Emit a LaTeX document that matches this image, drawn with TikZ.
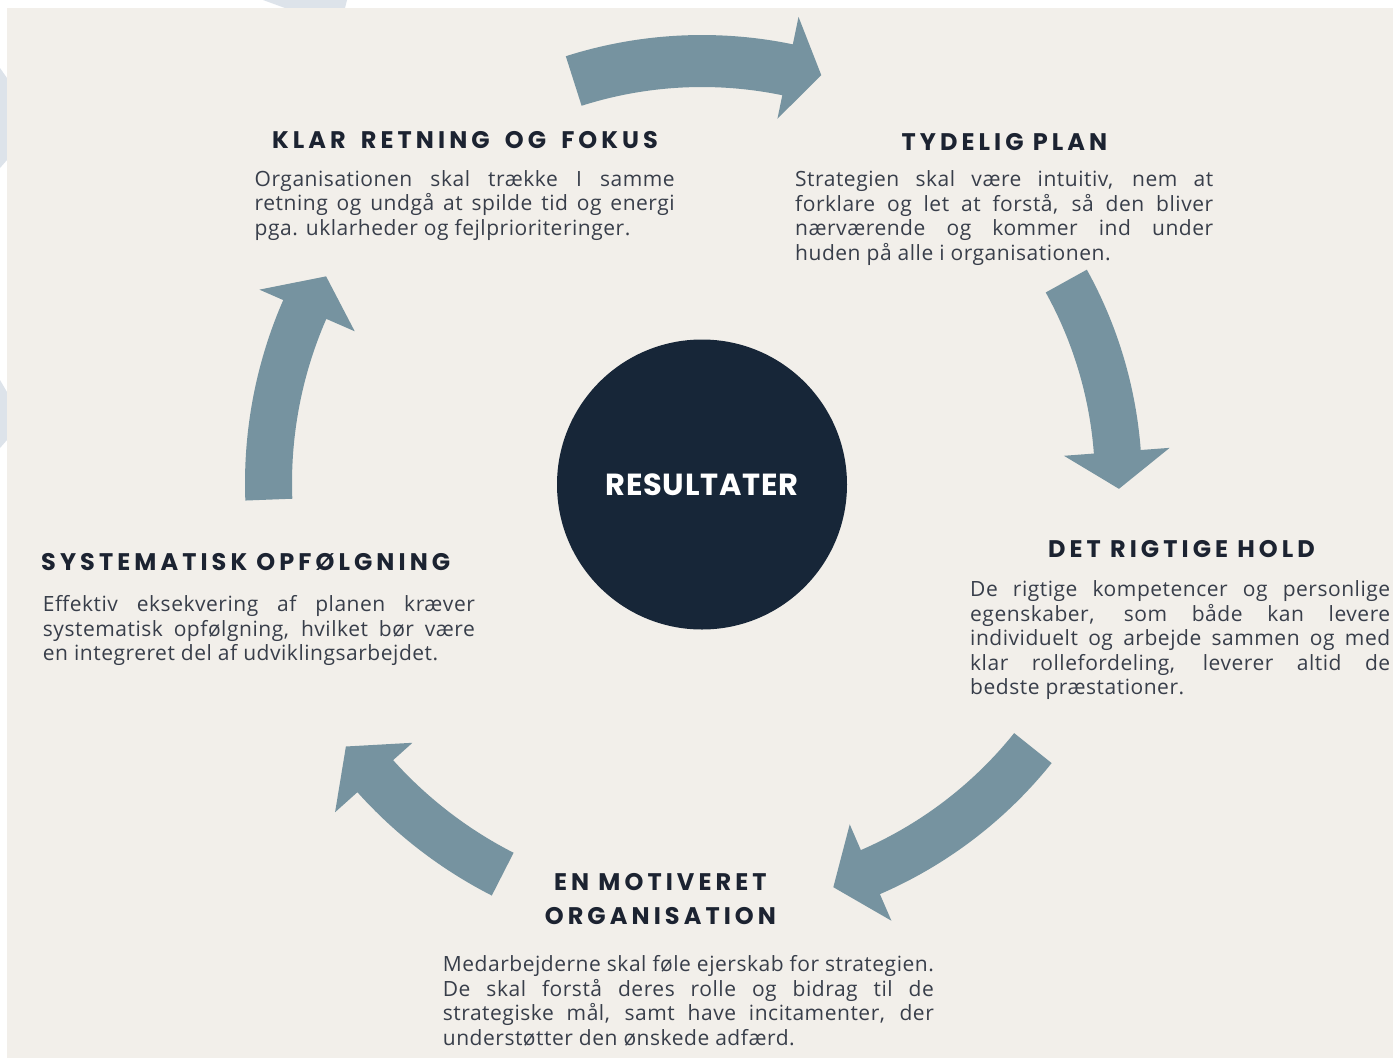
\documentclass[tikz,border=0pt]{standalone}
\usepackage{fontspec}
\setmainfont{Open Sans}
\newfontfamily\headfont{Poppins}[LetterSpace=17]
\newfontfamily\resfont{Poppins}[LetterSpace=2.5]
\newfontfamily\bodyfont{Open Sans}[LetterSpace=2.5]
\definecolor{bg}{HTML}{F2EFEA}
\definecolor{arrowc}{HTML}{7693A0}
\definecolor{navy}{HTML}{172638}
\definecolor{headc}{HTML}{1C2331}
\definecolor{bodyc}{HTML}{383E4A}
\definecolor{ghost}{HTML}{DDE3EA}
\newcommand\justline[2]{\makebox[#1][s]{#2}}
\newcommand\wsp{\hspace*{6pt} }
\begin{document}
\begin{tikzpicture}[x=1pt,y=-1pt,
  headtxt/.style={font=\headfont\bfseries\fontsize{24}{29}\selectfont, text=headc, inner sep=0pt, anchor=base},
  bodytxt/.style={font=\bodyfont\fontsize{21}{24.5}\selectfont, text=bodyc, inner sep=0pt, anchor=base west},
  cycarrow/.style={fill=arrowc, draw=none}]
\useasboundingbox (0,0) rectangle (1393,1058);
\fill[white] (0,0) rectangle (1393,1058);
% faint shapes in the margin
\fill[ghost] (263,0) -- (347,0) -- (345,8) -- (285,8) -- cycle;
\fill[ghost] (0,68) -- (7,78) -- (7,160) -- (0,168) -- cycle;
\fill[ghost] (0,380) -- (7,392) -- (7,440) -- (0,448) -- cycle;
\fill[bg] (7,8) rectangle (1393,1058);

\begin{scope}[shift={(702,483)}]
  % top arrow
  \fill[cycarrow] (-107.7:448) arc[start angle=-107.7, end angle=-78.3, radius=448]
     -- (-78.3:476) -- (-73.7:425) -- (-78.3:372) -- (-78.3:396)
     arc[start angle=-78.3, end angle=-107.7, radius=396] -- cycle;
  % right arrow
  \fill[cycarrow] (-29:440) arc[start angle=-29, end angle=-4.3, radius=440]
     -- (-4.3:469) -- (0.8:417) -- (-4.3:363) -- (-4.3:393)
     arc[start angle=-4.3, end angle=-29, radius=393] -- cycle;
  % bottom right arrow
  \fill[cycarrow] (38.7:448) arc[start angle=38.7, end angle=66.6, radius=448]
     -- (66.6:477) -- (72:425) -- (66.6:372) -- (66.6:400)
     arc[start angle=66.6, end angle=38.7, radius=400] -- cycle;
  % bottom left arrow
  \fill[cycarrow] (117:463) arc[start angle=117, end angle=138.1, radius=463]
     -- (138.1:493) -- (143.5:443) -- (138.1:389) -- (138.1:415)
     arc[start angle=138.1, end angle=117, radius=415] -- cycle;
  % left arrow
  \fill[cycarrow] (177.8:457) arc[start angle=177.8, end angle=203.6, radius=457]
     -- (203.6:483) -- (208.8:429) -- (203.6:379) -- (203.6:410)
     arc[start angle=203.6, end angle=177.8, radius=410] -- cycle;
\end{scope}

\node[circle, fill=navy, minimum size=290pt, inner sep=0pt, text=white,
      font=\resfont\bfseries\fontsize{30.5}{35}\selectfont] (res) at (702,484.5) {RESULTATER};

% headings
\node[headtxt] (klarhead) at (465,148.3) {KLAR\wsp RETNING\wsp OG\wsp FOKUS};
\node[headtxt] (planhead) at (1004.4,150.7) {TYDELIG PLAN};
\node[headtxt] (holdhead) at (1181.5,557) {DET RIGTIGE HOLD};
\node[headtxt, anchor=base west] (systhead) at (41,570) {SYSTEMATISK OPFØLGNING};
\node[headtxt] (motivheadA) at (660.4,890.7) {EN MOTIVERET};
\node[headtxt] (motivheadB) at (660.4,924) {ORGANISATION};

% body texts
\node[bodytxt] (klarbody) at (254.5,186) {\parbox[t]{420pt}{%
\justline{420pt}{Organisationen skal trække I samme}\\
\justline{420pt}{retning og undgå at spilde tid og energi}\\
pga. uklarheder og fejlprioriteringer.}};

\node[bodytxt] (planbody) at (795,186.7) {\parbox[t]{418pt}{%
\justline{418pt}{Strategien skal være intuitiv, nem at}\\
\justline{418pt}{forklare og let at forstå, så den bliver}\\
\justline{418pt}{nærværende og kommer ind under}\\
huden på alle i organisationen.}};

\node[bodytxt] (holdbody) at (970,596.7) {\parbox[t]{420pt}{%
\justline{420pt}{De rigtige kompetencer og personlige}\\
\justline{420pt}{egenskaber, som både kan levere}\\
\justline{420pt}{individuelt og arbejde sammen og med}\\
\justline{420pt}{klar rollefordeling, leverer altid de}\\
bedste præstationer.}};

\node[bodytxt] (systbody) at (42.7,611.7) {\parbox[t]{432pt}{%
\justline{432pt}{Effektiv eksekvering af planen kræver}\\
\justline{432pt}{systematisk opfølgning, hvilket bør være}\\
en integreret del af udviklingsarbejdet.}};

\node[bodytxt] (motivbody) at (442.7,971.7) {\parbox[t]{491pt}{%
\justline{491pt}{Medarbejderne skal føle ejerskab for strategien.}\\
\justline{491pt}{De skal forstå deres rolle og bidrag til de}\\
\justline{491pt}{strategiske mål, samt have incitamenter, der}\\
understøtter den ønskede adfærd.}};
\end{tikzpicture}
\end{document}
